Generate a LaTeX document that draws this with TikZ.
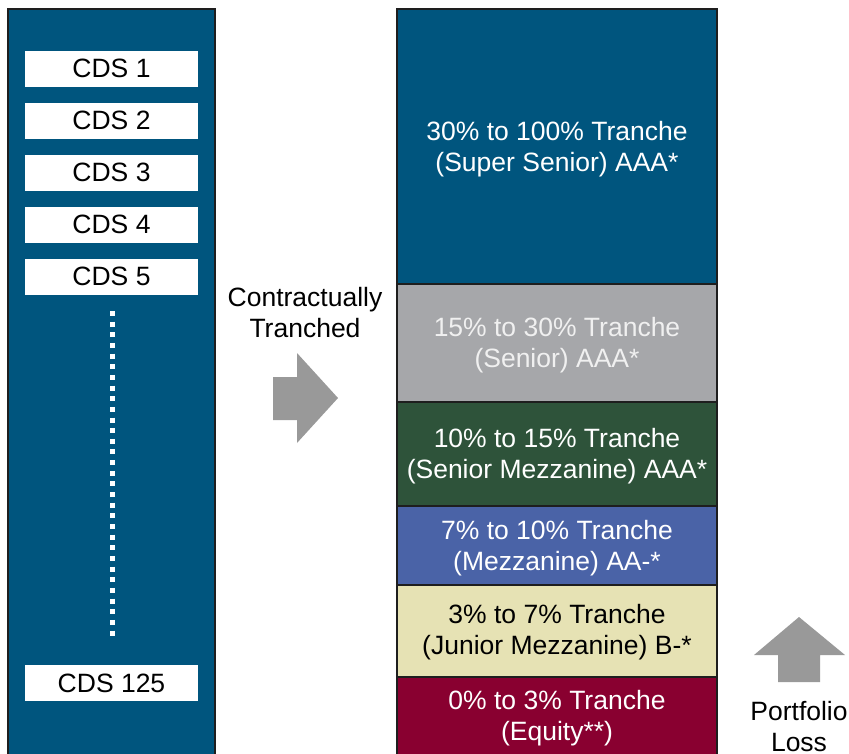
\documentclass[tikz,border=0pt]{standalone}
\usepackage{fontspec}
\setmainfont{Liberation Sans}
\definecolor{navy}{RGB}{0,85,126}
\definecolor{trgray}{RGB}{166,167,170}
\definecolor{trgreen}{RGB}{46,83,58}
\definecolor{trblue}{RGB}{74,99,167}
\definecolor{trcream}{RGB}{230,226,180}
\definecolor{trred}{RGB}{137,0,48}
\definecolor{arrowgray}{RGB}{153,153,153}
\definecolor{edge}{RGB}{30,30,30}
\tikzset{
  txt/.style={font=\fontsize{26.5}{31}\selectfont, align=center, inner sep=0pt},
  cdsbox/.style={txt, fill=white, minimum width=173pt, minimum height=36pt, text=black},
  panel/.style={draw=edge, line width=1.4pt},
}
\begin{document}
\begin{tikzpicture}[x=1pt,y=-1pt]
\useasboundingbox (0,0) rectangle (849,753);
\clip (0,0) rectangle (849,753);
% left panel
\draw[panel, fill=navy] (8,9) rectangle (215,770);
\node[cdsbox] (c1) at (111.5,68.5) {CDS 1};
\node[cdsbox] (c2) at (111.5,120.5) {CDS 2};
\node[cdsbox] (c3) at (111.5,172.5) {CDS 3};
\node[cdsbox] (c4) at (111.5,224.5) {CDS 4};
\node[cdsbox] (c5) at (111.5,276.5) {CDS 5};
\node[cdsbox] (c125) at (111.5,683) {CDS 125};
\coordinate (dtop) at (112,311);
\coordinate (dbot) at (112,636);
\draw[white, line width=5pt, dash pattern=on 5pt off 5.65pt] (dtop) -- (dbot);
% right tranches
\draw[panel, fill=navy] (397,9) rectangle (717,284);
\draw[panel, fill=trgray] (397,284) rectangle (717,402);
\draw[panel, fill=trgreen] (397,402) rectangle (717,506);
\draw[panel, fill=trblue] (397,506) rectangle (717,585);
\draw[panel, fill=trcream] (397,585) rectangle (717,677);
\draw[panel, fill=trred] (397,677) rectangle (717,770);
\node[txt, text=white] (t1) at (557,149) {30\% to 100\% Tranche\\(Super Senior) AAA*};
\node[txt, text=white!94!black] (t2) at (557,345.5) {15\% to 30\% Tranche\\(Senior) AAA*};
\node[txt, text=white] (t3) at (557,456.5) {10\% to 15\% Tranche\\(Senior Mezzanine) AAA*};
\node[txt, text=white] (t4) at (557,548.5) {7\% to 10\% Tranche\\(Mezzanine) AA-*};
\node[txt, text=black] (t5) at (557,632.5) {3\% to 7\% Tranche\\(Junior Mezzanine) B-*};
\node[txt, text=white] (t6) at (557,718) {0\% to 3\% Tranche\\(Equity**)};
% middle arrow and label
\node[txt] (ct) at (305,313) {Contractually\\Tranched};
\fill[arrowgray] (273,377) -- (297,377) -- (297,353) -- (338,398) -- (297,443) -- (297,420) -- (273,420) -- cycle;
% up arrow and label
\fill[arrowgray] (778,682) -- (778,655) -- (754,655) -- (799,617) -- (845,655) -- (820,655) -- (820,682) -- cycle;
\node[txt] (pl) at (799,726.5) {Portfolio\\Loss};
\end{tikzpicture}
\end{document}
